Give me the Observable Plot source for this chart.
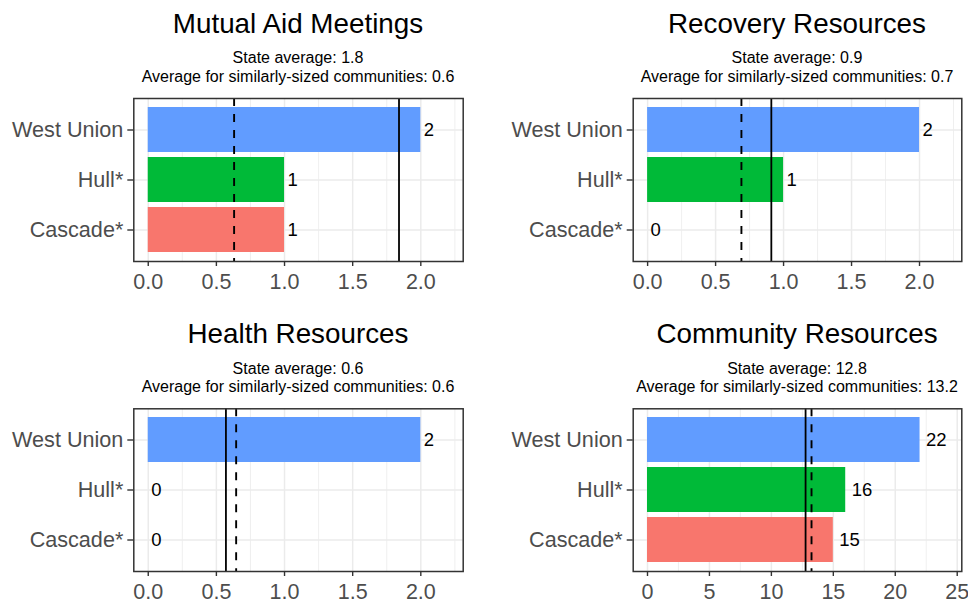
<!DOCTYPE html>
<html>
<head>
<meta charset="utf-8">
<script src="https://cdn.jsdelivr.net/npm/d3@7"></script>
<script src="https://cdn.jsdelivr.net/npm/@observablehq/plot@0.6"></script>
<style>
  html, body { margin: 0; padding: 0; background: #fff; }
  body { width: 968px; height: 602px; position: relative; overflow: hidden;
         font-family: "Liberation Sans", Arial, sans-serif; }
  .title { position: absolute; text-align: center; font-size: 27.8px; line-height: 27.8px; color: #000; white-space: nowrap; }
  .sub { position: absolute; text-align: center; font-size: 16px; line-height: 18.3px; color: #000; white-space: nowrap; }
  .plot { position: absolute; }
  .plot svg { overflow: visible; }
</style>
</head>
<body>
<script>
// ---- data ----
const communities = ["West Union", "Hull*", "Cascade*"];
const barColors = ["#619CFF", "#00BA38", "#F8766D"];
const panelTitles = ["Mutual Aid Meetings", "Recovery Resources", "Health Resources", "Community Resources"];
const mutualAid = [2, 1, 1];
const recovery = [2, 1, 0];
const health = [2, 0, 0];
const communityRes = [22, 16, 15];
const stateAvg = [1.84, 0.91, 0.57, 12.76];
const similarAvg = [0.63, 0.69, 0.645, 13.24];
const smallTicks = [0, 0.5, 1, 1.5, 2];
const bigTicks = [0, 5, 10, 15, 20, 25];
const smallDomain = [-0.106, 2.311];
const bigDomain = [-1.154, 25.37];

const fmt1 = d3.format(".1f");

const panels = [
  {values: mutualAid, ticks: smallTicks, domain: smallDomain, tickFormat: d3.format(".1f"), col: 0, row: 0},
  {values: recovery, ticks: smallTicks, domain: smallDomain, tickFormat: d3.format(".1f"), col: 1, row: 0},
  {values: health, ticks: smallTicks, domain: smallDomain, tickFormat: d3.format(".1f"), col: 0, row: 1},
  {values: communityRes, ticks: bigTicks, domain: bigDomain, tickFormat: d3.format("d"), col: 1, row: 1}
];

panels.forEach((p, i) => {
  const svgLeft = p.col === 0 ? 0 : 484;
  const svgTop = p.row === 0 ? 88 : 398;
  const svgH = p.row === 0 ? 212 : 204;
  const mTop = p.row === 0 ? 10 : 10.3;
  const mBottom = p.row === 0 ? 39 : 31;
  const mLeft = p.col === 0 ? 133.3 : 148.7;
  const mRight = p.col === 0 ? 21.3 : 6.7;
  const frameL = svgLeft + mLeft;
  const frameW = 484 - mLeft - mRight;
  const rowOff = p.row === 0 ? 0 : 310.3;

  const rows = communities.map((c, j) => ({community: c, value: p.values[j]}));
  const step = p.ticks[1] - p.ticks[0];
  const minor = p.ticks.map(t => t + step / 2).filter(t => t < p.domain[1]);

  const labelMarks = rows.map(d => Plot.text([d], {
    x: "value", y: "community", text: d => String(d.value),
    textAnchor: "start", dx: 3 * String(d.value).length, fontSize: 18.5, fill: "#000"
  }));

  const chart = Plot.plot({
    width: 484, height: svgH,
    marginTop: mTop, marginBottom: mBottom, marginLeft: mLeft, marginRight: mRight,
    style: {fontFamily: "'Liberation Sans', Arial, sans-serif", background: "transparent"},
    x: {domain: p.domain, label: null},
    y: {type: "band", domain: communities, paddingInner: 0.1, paddingOuter: 0.15, label: null},
    color: {domain: communities, range: barColors},
    marks: [
      Plot.gridX(minor, {stroke: "#EBEBEB", strokeOpacity: 1, strokeWidth: 0.8}),
      Plot.gridX(p.ticks, {stroke: "#EBEBEB", strokeOpacity: 1, strokeWidth: 1.5}),
      Plot.gridY(communities, {stroke: "#EBEBEB", strokeOpacity: 1, strokeWidth: 1.5}),
      Plot.barX(rows, {x: "value", y: "community", fill: "community"}),
      Plot.ruleX([similarAvg[i]], {stroke: "#000", strokeWidth: 1.9, strokeDasharray: "8,8"}),
      Plot.ruleX([stateAvg[i]], {stroke: "#000", strokeWidth: 1.8}),
      ...labelMarks,
      Plot.frame({stroke: "#333", strokeWidth: 1.5}),
      Plot.axisX({ticks: p.ticks, tickFormat: p.tickFormat, tickSize: 5, tickPadding: 7, fontSize: 21.5,
                  fill: "#4D4D4D", stroke: "#333", strokeWidth: 1.4, label: null}),
      Plot.axisY({tickSize: 6, tickPadding: 4.5, fontSize: 21.6, fill: "#4D4D4D", stroke: "#333",
                  strokeWidth: 1.4, label: null})
    ]
  });

  const wrap = document.createElement("div");
  wrap.className = "plot";
  wrap.style.left = svgLeft + "px";
  wrap.style.top = svgTop + "px";
  wrap.appendChild(chart);
  document.body.appendChild(wrap);

  const t = document.createElement("div");
  t.className = "title";
  t.style.left = (frameL - 100) + "px";
  t.style.width = (frameW + 200) + "px";
  t.style.top = (9.8 + rowOff) + "px";
  t.textContent = panelTitles[i];
  document.body.appendChild(t);

  const s = document.createElement("div");
  s.className = "sub";
  s.style.left = (frameL - 100) + "px";
  s.style.width = (frameW + 200) + "px";
  s.style.top = (49.3 + rowOff) + "px";
  const l1 = document.createElement("div");
  l1.textContent = "State average: " + fmt1(stateAvg[i]);
  const l2 = document.createElement("div");
  l2.textContent = "Average for similarly-sized communities: " + fmt1(similarAvg[i]);
  s.appendChild(l1); s.appendChild(l2);
  document.body.appendChild(s);
});
</script>
</body>
</html>
